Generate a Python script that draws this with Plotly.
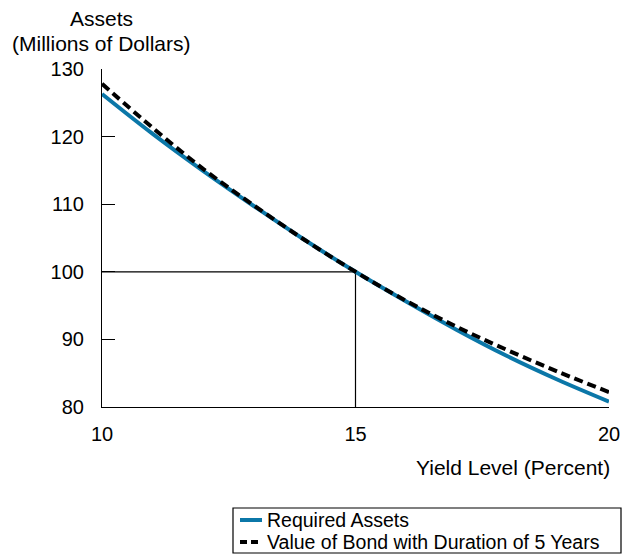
import plotly.graph_objects as go

# Yield level (percent)
yields = [10, 11, 12, 13, 14, 15, 16, 17, 18, 19, 20]

# Required assets (millions of dollars)
required_assets = [126.3, 120.4, 114.9, 109.7, 104.7, 100.0, 95.6, 91.4, 87.5, 84.0, 80.8]

# Value of bond with duration of 5 years
bond_value = [127.8, 121.3, 115.2, 109.8, 104.7, 100.0, 95.7, 91.85, 88.4, 85.2, 82.2]

# Reference point: yield 15 %, assets 100
ref_x = [10, 15, 15]
ref_y = [100, 100, 80]

x_ticks = [10, 15, 20]
y_ticks = [80, 90, 100, 110, 120, 130]

series_names = ["Required Assets", "Value of Bond with Duration of 5 Years"]

FONT = "Liberation Sans, Arial, sans-serif"
BLUE = "#0B77A8"

W, H = 624, 557
L, R, T, B = 102, 15, 69, 150


def px(x, y):
    """page pixel -> paper coordinates"""
    return (x - L) / (W - L - R), (H - B - y) / (H - T - B)


fig = go.Figure()

# thin guide lines to the tangency point
fig.add_trace(go.Scatter(
    x=ref_x, y=ref_y, mode="lines",
    line=dict(color="black", width=1.2),
    showlegend=False, hoverinfo="skip"
))

fig.add_trace(go.Scatter(
    x=yields, y=required_assets, mode="lines",
    name=series_names[0], showlegend=False,
    line=dict(color=BLUE, width=4, shape="spline")
))

fig.add_trace(go.Scatter(
    x=yields, y=bond_value, mode="lines",
    name=series_names[1], showlegend=False,
    line=dict(color="black", width=4, dash="9px,5px", shape="spline")
))

# hand-built legend box (tight rows like the original)
x0, y0 = px(233, 508)
x1, y1 = px(621, 553)
shapes = [dict(type="rect", xref="paper", yref="paper", x0=x0, y0=y0, x1=x1, y1=y1,
               line=dict(color="black", width=1.2), fillcolor="white")]
annotations = []
for i, (name, col, dash) in enumerate(zip(series_names, [BLUE, "black"], ["solid", "7px,4px"])):
    row_y = 520 + i * 22
    lx0, ly = px(240, row_y)
    lx1, _ = px(262, row_y)
    shapes.append(dict(type="line", xref="paper", yref="paper", x0=lx0, x1=lx1, y0=ly, y1=ly,
                       line=dict(color=col, width=4, dash=dash)))
    tx, ty = px(265, row_y)
    annotations.append(dict(text=name, xref="paper", yref="paper", x=tx, y=ty,
                            xanchor="left", yanchor="middle", showarrow=False,
                            font=dict(size=19.5)))

ax, ay = px(101, 19)
annotations.append(dict(text="Assets", xref="paper", yref="paper", x=ax, y=ay,
                        xanchor="center", yanchor="middle", showarrow=False, font=dict(size=21)))
ax, ay = px(101, 43)
annotations.append(dict(text="(Millions of Dollars)", xref="paper", yref="paper", x=ax, y=ay,
                        xanchor="center", yanchor="middle", showarrow=False, font=dict(size=21)))
ax, ay = px(612, 467)
annotations.append(dict(text="Yield Level (Percent)", xref="paper", yref="paper", x=ax, y=ay,
                        xanchor="right", yanchor="middle", showarrow=False, font=dict(size=21)))

fig.update_layout(
    width=W, height=H,
    margin=dict(l=L, r=R, t=T, b=B, autoexpand=False),
    plot_bgcolor="white",
    paper_bgcolor="white",
    font=dict(family=FONT, size=20, color="black"),
    showlegend=False,
    xaxis=dict(
        range=[10, 20], tickvals=x_ticks,
        showline=True, linecolor="black", linewidth=1.2,
        ticks="inside", ticklen=12, tickcolor="black", tickwidth=1.2,
        showgrid=False, zeroline=False,
        ticklabelstandoff=9,
    ),
    yaxis=dict(
        range=[80, 130], tickvals=y_ticks,
        showline=True, linecolor="black", linewidth=1.2,
        ticks="inside", ticklen=13, tickcolor="black", tickwidth=1.2,
        showgrid=False, zeroline=False,
        ticklabelstandoff=13,
    ),
    shapes=shapes,
    annotations=annotations,
)

fig.write_html("out.html", config={"displayModeBar": False},
               post_script="document.body.style.margin='0';")
